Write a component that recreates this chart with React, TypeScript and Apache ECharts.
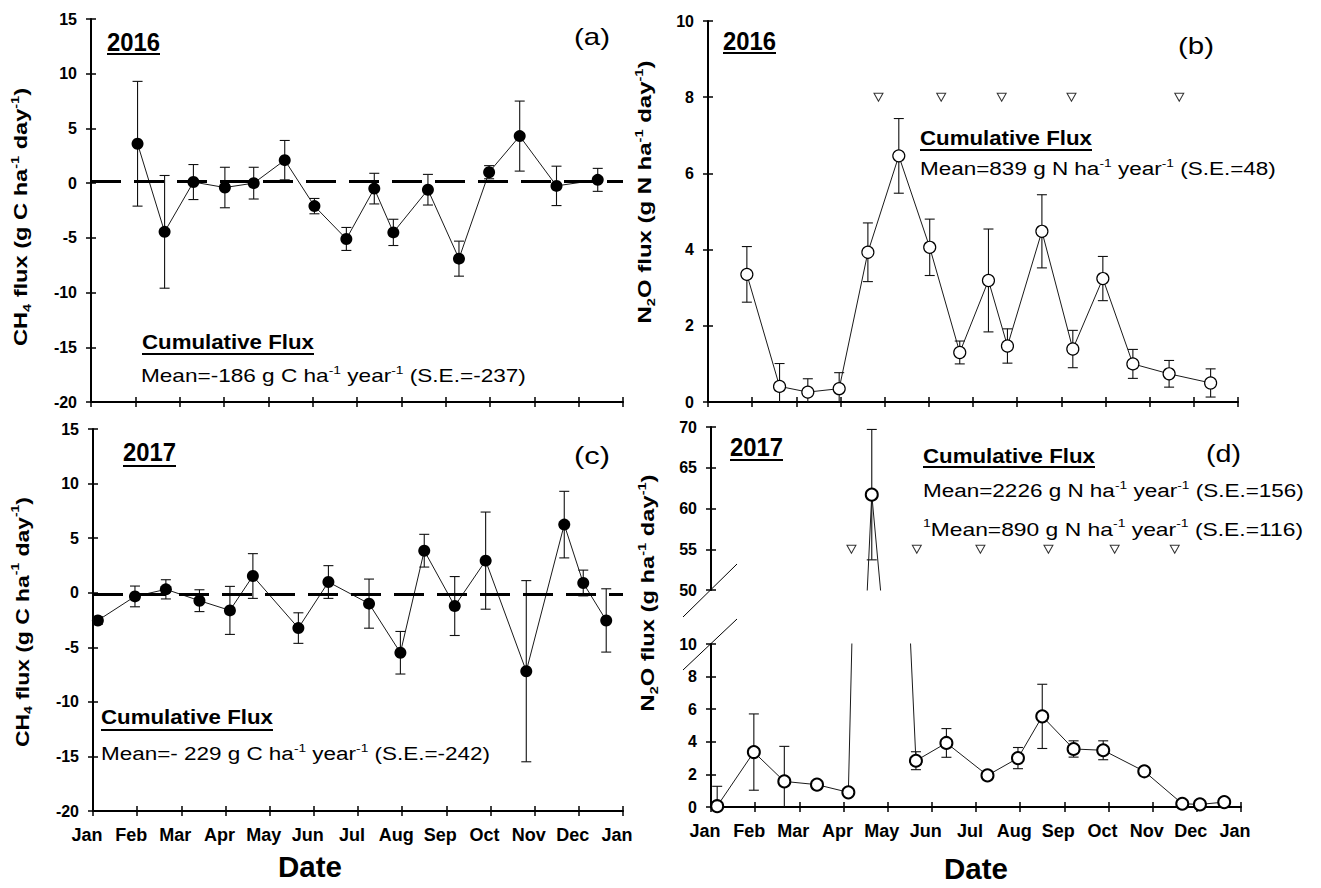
import { useEffect, useRef } from 'react';
import * as echarts from 'echarts';

const FONT = 'Arial, "Liberation Sans", Helvetica, sans-serif';

const monthLabels = ['Jan', 'Feb', 'Mar', 'Apr', 'May', 'Jun', 'Jul', 'Aug', 'Sep', 'Oct', 'Nov', 'Dec', 'Jan'];

// (a) CH4 flux 2016 (x in months from 1 Jan)
const ch4_2016_x = [1.05, 1.66, 2.31, 3.02, 3.67, 4.37, 5.04, 5.76, 6.39, 6.82, 7.6, 8.3, 8.98, 9.67, 10.5, 11.43];
const ch4_2016_y = [3.6, -4.45, 0.1, -0.4, 0.0, 2.1, -2.1, -5.1, -0.5, -4.5, -0.6, -6.9, 1.0, 4.3, -0.25, 0.3];
const ch4_2016_se = [5.7, 5.15, 1.6, 1.85, 1.45, 1.8, 0.7, 1.05, 1.4, 1.2, 1.4, 1.6, 0.6, 3.2, 1.8, 1.05];
const ch4_2016_ref = 0.2;

// (b) N2O flux 2016
const n2o_2016_x = [0.88, 1.62, 2.26, 2.97, 3.62, 4.32, 5.02, 5.7, 6.35, 6.78, 7.56, 8.26, 8.94, 9.62, 10.44, 11.38];
const n2o_2016_y = [3.35, 0.41, 0.26, 0.35, 3.93, 6.46, 4.06, 1.3, 3.19, 1.47, 4.48, 1.39, 3.24, 1.0, 0.74, 0.5];
const n2o_2016_se = [0.73, 0.6, 0.35, 0.42, 0.77, 0.98, 0.74, 0.3, 1.35, 0.45, 0.96, 0.49, 0.58, 0.38, 0.35, 0.37];
const fert_2016_x = [3.86, 5.28, 6.65, 8.23, 10.67];
const fert_2016_level = 8;

// (c) CH4 flux 2017
const ch4_2017_x = [0.11, 0.95, 1.65, 2.41, 3.1, 3.62, 4.65, 5.33, 6.25, 6.96, 7.5, 8.19, 8.89, 9.81, 10.67, 11.1, 11.62];
const ch4_2017_y = [-2.54, -0.34, 0.31, -0.73, -1.62, 1.53, -3.24, 0.98, -1.0, -5.5, 3.85, -1.22, 2.94, -7.19, 6.24, 0.89, -2.54];
const ch4_2017_se = [0.35, 0.95, 0.88, 1.0, 2.2, 2.05, 1.4, 1.5, 2.25, 1.95, 1.5, 2.7, 4.45, 8.3, 3.05, 1.18, 2.9];
const ch4_2017_ref = -0.15;

// (d) N2O flux 2017
const n2o_2017_x = [0.14, 0.97, 1.66, 2.4, 3.11, 3.64, 4.64, 5.33, 6.26, 6.95, 7.5, 8.21, 8.88, 9.81, 10.67, 11.07, 11.62];
const n2o_2017_y = [0.05, 3.37, 1.57, 1.37, 0.9, 61.7, 2.84, 3.93, 1.94, 3.0, 5.56, 3.56, 3.48, 2.19, 0.2, 0.16, 0.3];
const n2o_2017_se = [1.22, 2.34, 2.15, 0.2, 0.15, 8.0, 0.55, 0.88, 0.25, 0.65, 1.97, 0.5, 0.58, 0.25, 0.1, 0.1, 0.1];
const fert_2017_x = [3.18, 4.66, 6.1, 7.64, 9.14, 10.5];
const fert_2017_level = 55;

// y-axis ranges per grid: (a), (b), (c), (d upper), (d lower)
const yRanges = [
  [-20, 15, 5],
  [0, 10, 2],
  [-20, 15, 5],
  [50, 70, 5],
  [0, 10, 2],
];

const GRIDS = [
  { left: 91, top: 19, width: 532, height: 383 },
  { left: 708, top: 21, width: 530, height: 381 },
  { left: 93, top: 429, width: 530, height: 382 },
  { left: 711, top: 427, width: 530, height: 163 },
  { left: 711, top: 644, width: 530, height: 163 },
];

let measureCanvas: HTMLCanvasElement | null = null;
function measureRich(str: string, size: number, weight: string, smallSize: number): number {
  if (!measureCanvas) measureCanvas = document.createElement('canvas');
  const ctx = measureCanvas.getContext('2d')!;
  let w = 0;
  const re = /\{(\w+)\|([^}]*)\}/g;
  let last = 0;
  let m: RegExpExecArray | null;
  while ((m = re.exec(str))) {
    if (m.index > last) {
      ctx.font = `${weight} ${size}px ${FONT}`;
      w += ctx.measureText(str.slice(last, m.index)).width;
    }
    ctx.font = `${weight} ${smallSize}px ${FONT}`;
    w += ctx.measureText(m[2]).width;
    last = re.lastIndex;
  }
  if (last < str.length) {
    ctx.font = `${weight} ${size}px ${FONT}`;
    w += ctx.measureText(str.slice(last)).width;
  }
  return w;
}

type TextSpec = {
  t: string;
  x: number;
  y: number;
  size: number;
  weight: string;
  target: number;
  align?: string;
  rot?: boolean;
  ulY?: number;
};

const texts: TextSpec[] = [
  { t: '2016', x: 107, y: 42, size: 25, weight: 'bold', target: 53, ulY: 54 },
  { t: '2016', x: 723, y: 41, size: 25, weight: 'bold', target: 53, ulY: 53 },
  { t: '2017', x: 123, y: 452, size: 25, weight: 'bold', target: 53, ulY: 466 },
  { t: '2017', x: 730, y: 447, size: 25, weight: 'bold', target: 53, ulY: 460 },
  { t: '(a)', x: 574, y: 37, size: 24, weight: 'normal', target: 36 },
  { t: '(b)', x: 1178, y: 46, size: 24, weight: 'normal', target: 36 },
  { t: '(c)', x: 574, y: 456, size: 24, weight: 'normal', target: 36 },
  { t: '(d)', x: 1206, y: 454, size: 24, weight: 'normal', target: 35 },
  { t: 'Cumulative Flux', x: 142, y: 342, size: 20, weight: 'bold', target: 172, ulY: 354 },
  { t: 'Cumulative Flux', x: 920, y: 137.5, size: 20, weight: 'bold', target: 172, ulY: 150 },
  { t: 'Cumulative Flux', x: 101, y: 717, size: 20, weight: 'bold', target: 172, ulY: 730 },
  { t: 'Cumulative Flux', x: 923, y: 455.5, size: 20, weight: 'bold', target: 172, ulY: 467 },
  { t: 'Mean=-186 g C ha{s|-1} year{s|-1} (S.E.=-237)', x: 141, y: 376, size: 18, weight: 'normal', target: 385 },
  { t: 'Mean=839 g N ha{s|-1} year{s|-1} (S.E.=48)', x: 920, y: 169, size: 18, weight: 'normal', target: 356 },
  { t: 'Mean=- 229 g C ha{s|-1} year{s|-1} (S.E.=-242)', x: 101, y: 754, size: 18, weight: 'normal', target: 389 },
  { t: 'Mean=2226 g N ha{s|-1} year{s|-1} (S.E.=156)', x: 923, y: 491, size: 18, weight: 'normal', target: 381 },
  { t: '{s|1}Mean=890 g N ha{s|-1} year{s|-1} (S.E.=116)', x: 923, y: 529, size: 18, weight: 'normal', target: 380 },
  { t: 'CH{b|4} flux (g C ha{s|-1} day{s|-1})', x: 21, y: 217, size: 18, weight: 'bold', target: 258, rot: true, align: 'center' },
  { t: 'N{b|2}O flux (g N ha{s|-1} day{s|-1})', x: 645, y: 192, size: 18, weight: 'bold', target: 263, rot: true, align: 'center' },
  { t: 'CH{b|4} flux (g C ha{s|-1} day{s|-1})', x: 22, y: 622, size: 18, weight: 'bold', target: 250, rot: true, align: 'center' },
  { t: 'N{b|2}O flux (g ha{s|-1} day{s|-1})', x: 648, y: 593, size: 18, weight: 'bold', target: 237, rot: true, align: 'center' },
  { t: 'Date', x: 310, y: 867, size: 29, weight: 'bold', target: 64, align: 'center' },
  { t: 'Date', x: 976, y: 869, size: 29, weight: 'bold', target: 64, align: 'center' },
];

function buildGraphics() {
  const els: any[] = [];
  texts.forEach((s) => {
    const small = Math.round(s.size * 0.6);
    const natural = measureRich(s.t, s.size, s.weight, small);
    const sx = s.target / natural;
    const lh = Math.round(s.size * 1.25);
    els.push({
      type: 'text',
      x: s.x,
      y: s.y,
      scaleX: sx,
      rotation: s.rot ? Math.PI / 2 : 0,
      silent: true,
      style: {
        text: s.t,
        fill: '#000',
        fontSize: s.size,
        fontWeight: s.weight,
        fontFamily: FONT,
        align: s.align || 'left',
        verticalAlign: 'middle',
        lineHeight: lh,
        rich: {
          s: { fontSize: small, fontWeight: s.weight, fontFamily: FONT, fill: '#000', verticalAlign: 'top', lineHeight: Math.round(s.size * 0.75) },
          b: { fontSize: small, fontWeight: s.weight, fontFamily: FONT, fill: '#000', verticalAlign: 'bottom', lineHeight: Math.round(s.size * 0.55) },
        },
      },
    });
    if (s.ulY !== undefined) {
      els.push({
        type: 'line',
        silent: true,
        shape: { x1: s.x, y1: s.ulY, x2: s.x + s.target, y2: s.ulY },
        style: { stroke: '#000', lineWidth: 2 },
      });
    }
  });
  // axis break marks for panel (d)
  els.push({ type: 'line', silent: true, shape: { x1: 683, y1: 617, x2: 737, y2: 564 }, style: { stroke: '#000', lineWidth: 1 } });
  els.push({ type: 'line', silent: true, shape: { x1: 683, y1: 670, x2: 737, y2: 619 }, style: { stroke: '#000', lineWidth: 1 } });
  return els;
}

function lineSeries(g: number, xs: number[], ys: number[], open: boolean, bw: number, ref?: number) {
  const s: any = {
    type: 'line',
    xAxisIndex: 2 * g,
    yAxisIndex: 2 * g,
    data: xs.map((v, i) => [v, ys[i]]),
    symbol: 'circle',
    symbolSize: 12,
    showSymbol: true,
    clip: true,
    z: 4,
    silent: true,
    lineStyle: { color: '#1a1a1a', width: 1 },
    itemStyle: open ? { color: '#fff', borderColor: '#000', borderWidth: bw } : { color: '#000' },
  };
  if (ref !== undefined) {
    s.markLine = {
      silent: true,
      symbol: ['none', 'none'],
      label: { show: false },
      lineStyle: { color: '#000', width: 3, type: [30, 13] },
      data: [{ yAxis: ref }],
    };
  }
  return s;
}

function errSeries(g: number, xs: number[], ys: number[], se: number[]) {
  return {
    type: 'custom',
    xAxisIndex: 2 * g,
    yAxisIndex: 2 * g,
    z: 3,
    silent: true,
    data: xs.map((v, i) => [v, ys[i], se[i]]),
    encode: { x: 0, y: 1 },
    renderItem: (params: any, api: any) => {
      const x = api.value(0);
      const y = api.value(1);
      const e = api.value(2);
      const top = api.coord([x, y + e]);
      const bot = api.coord([x, y - e]);
      const cs = params.coordSys;
      const yMin = cs.y;
      const yMax = cs.y + cs.height;
      const t = top[1];
      const b = bot[1];
      if (b < yMin || t > yMax) return null;
      const tc = Math.max(t, yMin);
      const bc = Math.min(b, yMax);
      const style = { stroke: '#111', lineWidth: 1.1 };
      const children: any[] = [
        { type: 'line', shape: { x1: top[0], y1: tc, x2: top[0], y2: bc }, style },
      ];
      if (t >= yMin) children.push({ type: 'line', shape: { x1: top[0] - 5, y1: t, x2: top[0] + 5, y2: t }, style });
      if (b <= yMax) children.push({ type: 'line', shape: { x1: bot[0] - 5, y1: b, x2: bot[0] + 5, y2: b }, style });
      return { type: 'group', children };
    },
  };
}

function triSeries(g: number, xs: number[], level: number) {
  return {
    type: 'scatter',
    xAxisIndex: 2 * g,
    yAxisIndex: 2 * g,
    data: xs.map((v) => [v, level]),
    symbol: 'triangle',
    symbolRotate: 180,
    symbolSize: [9, 8],
    silent: true,
    z: 5,
    itemStyle: { color: '#fff', borderColor: '#000', borderWidth: 1 },
  };
}

function buildOption() {
  const xAxes: any[] = [];
  const yAxes: any[] = [];
  const tickStyle = { color: '#000', width: 1.5 };
  const lineStyle = { color: '#000', width: 2 };
  GRIDS.forEach((_, g) => {
    const showX = g !== 3;
    const labels = g === 2 || g === 4;
    const xb = { type: 'value', gridIndex: g, min: 0, max: 12, interval: 1, position: 'bottom', show: showX, splitLine: { show: false } };
    xAxes.push({
      ...xb,
      axisLine: { show: true, onZero: false, lineStyle },
      axisTick: { show: true, inside: false, length: 5, lineStyle: tickStyle },
      axisLabel: {
        show: labels,
        formatter: (v: number) => monthLabels[Math.round(v)] ?? '',
        fontSize: 18,
        fontWeight: 'bold',
        color: '#000',
        fontFamily: FONT,
        margin: 15,
        padding: [0, 12, 0, 0],
      },
    });
    xAxes.push({
      ...xb,
      axisLine: { show: false, onZero: false },
      axisTick: { show: true, inside: true, length: 5, lineStyle: tickStyle },
      axisLabel: { show: false },
    });
    const [mn, mx, iv] = yRanges[g];
    const yb = { type: 'value', gridIndex: g, min: mn, max: mx, interval: iv, position: 'left', splitLine: { show: false } };
    yAxes.push({
      ...yb,
      axisLine: { show: true, onZero: false, lineStyle },
      axisTick: { show: true, inside: false, length: 5, lineStyle: tickStyle },
      axisLabel: { fontSize: 16, fontWeight: 'bold', color: '#000', fontFamily: FONT, margin: 14 },
    });
    yAxes.push({
      ...yb,
      axisLine: { show: false, onZero: false },
      axisTick: { show: true, inside: true, length: 5, lineStyle: tickStyle },
      axisLabel: { show: false },
    });
  });

  const series: any[] = [
    errSeries(0, ch4_2016_x, ch4_2016_y, ch4_2016_se),
    lineSeries(0, ch4_2016_x, ch4_2016_y, false, 0, ch4_2016_ref),
    errSeries(1, n2o_2016_x, n2o_2016_y, n2o_2016_se),
    lineSeries(1, n2o_2016_x, n2o_2016_y, true, 1.2),
    triSeries(1, fert_2016_x, fert_2016_level),
    errSeries(2, ch4_2017_x, ch4_2017_y, ch4_2017_se),
    lineSeries(2, ch4_2017_x, ch4_2017_y, false, 0, ch4_2017_ref),
    errSeries(3, n2o_2017_x, n2o_2017_y, n2o_2017_se),
    lineSeries(3, n2o_2017_x, n2o_2017_y, true, 2),
    triSeries(3, fert_2017_x, fert_2017_level),
    errSeries(4, n2o_2017_x, n2o_2017_y, n2o_2017_se),
    lineSeries(4, n2o_2017_x, n2o_2017_y, true, 2),
  ];

  return {
    animation: false,
    backgroundColor: '#fff',
    grid: GRIDS.map((g) => ({ ...g, containLabel: false })),
    xAxis: xAxes,
    yAxis: yAxes,
    series,
    graphic: { elements: buildGraphics() },
  };
}

export default function App() {
  const ref = useRef<HTMLDivElement>(null);
  useEffect(() => {
    if (!ref.current) return;
    const chart = echarts.init(ref.current, undefined, { renderer: 'svg' });
    chart.setOption(buildOption() as any);
    return () => chart.dispose();
  }, []);
  return (
    <div
      ref={ref}
      style={{ position: 'absolute', left: 0, top: 0, width: 1321, height: 888, background: '#fff' }}
    />
  );
}
